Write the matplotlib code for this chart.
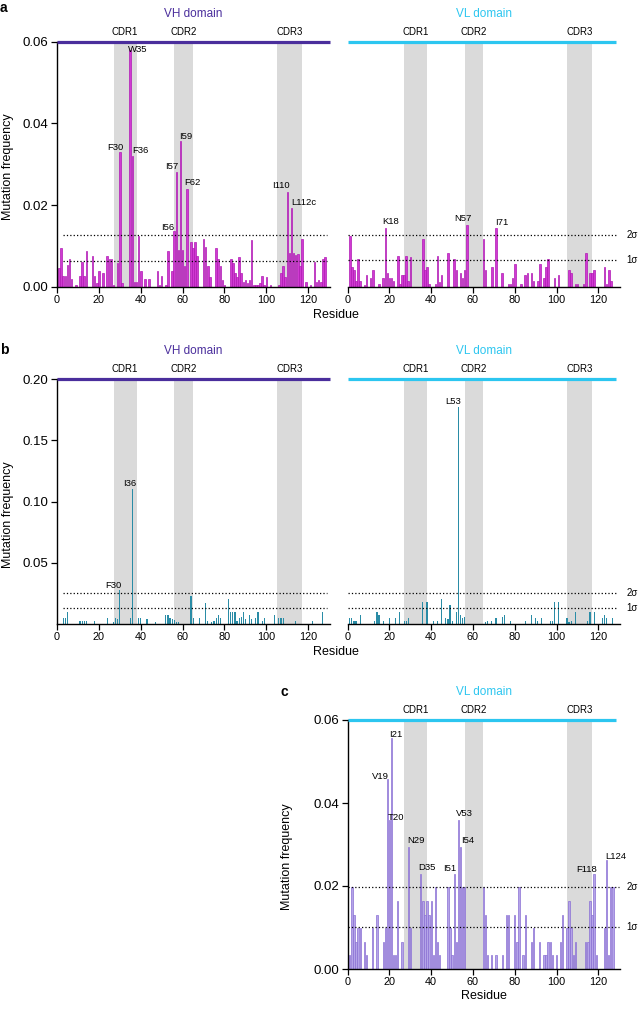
import matplotlib.pyplot as plt

plt.rcParams['font.family'] = ['Liberation Sans', 'DejaVu Sans']

# ---- data: residue positions and mutation frequencies ----
# panel a, VH domain
a_vh_res = [1, 2, 3, 4, 5, 6, 7, 9, 11, 12, 13, 14, 17, 18, 19, 20, 22, 24, 25, 26,
            27, 29, 30, 31, 35, 36, 37, 38, 39, 40, 42, 44, 48, 49, 50, 52, 53, 55, 56, 57,
            58, 59, 60, 61, 62, 64, 65, 66, 67, 70, 71, 72, 73, 76, 77, 78, 79, 80, 83, 84,
            85, 86, 87, 88, 89, 90, 91, 92, 93, 94, 95, 96, 97, 98, 99, 100, 102, 106, 107, 108,
            109, 110, 111, 112, 113, 114, 115, 116, 117, 119, 121, 123, 124, 125, 126, 127, 128]
a_vh_val = [0.0047, 0.0094, 0.0026, 0.0026, 0.0053, 0.0067, 0.0018, 0.0004, 0.0026, 0.0061,
            0.0026, 0.0088, 0.0075, 0.0026, 0.0008, 0.0039, 0.0033, 0.0075, 0.0069, 0.0069,
            0.0004, 0.0057, 0.0330, 0.0008, 0.0580, 0.0320, 0.0012, 0.0012, 0.0124, 0.0039,
            0.0020, 0.0020, 0.0039, 0.0004, 0.0026, 0.0004, 0.0088, 0.0039, 0.0137, 0.0280,
            0.0090, 0.0357, 0.0090, 0.0050, 0.0240, 0.0109, 0.0094, 0.0109, 0.0074, 0.0116,
            0.0098, 0.0050, 0.0024, 0.0094, 0.0067, 0.0050, 0.0016, 0.0004, 0.0069, 0.0057,
            0.0033, 0.0024, 0.0073, 0.0033, 0.0012, 0.0016, 0.0008, 0.0016, 0.0114, 0.0004,
            0.0004, 0.0004, 0.0008, 0.0026, 0.0004, 0.0024, 0.0004, 0.0003, 0.0033, 0.0050,
            0.0024, 0.0231, 0.0082, 0.0192, 0.0082, 0.0078, 0.0080, 0.0050, 0.0116, 0.0012,
            0.0004, 0.0060, 0.0012, 0.0016, 0.0012, 0.0067, 0.0073]
a_vh_sigma = [0.0126, 0.0064]
a_vh_names = ['F30', 'W35', 'F36', 'I56', 'I57', 'I59', 'F62', 'I110', 'L112c']

# panel a, VL domain
a_vl_res = [1, 2, 3, 4, 5, 6, 8, 9, 11, 12, 15, 17, 18, 19, 20, 21, 22, 24, 25, 26,
            27, 28, 29, 30, 36, 37, 38, 39, 42, 43, 44, 45, 48, 51, 52, 54, 55, 56, 57, 65,
            66, 69, 71, 74, 77, 78, 79, 80, 83, 85, 86, 88, 89, 91, 92, 94, 95, 96, 99, 101,
            106, 107, 109, 110, 113, 114, 116, 117, 118, 123, 124, 125, 126]
a_vl_val = [0.0124, 0.0049, 0.0041, 0.0014, 0.0069, 0.0014, 0.0004, 0.0028, 0.0022, 0.0042,
            0.0006, 0.0022, 0.0144, 0.0034, 0.0022, 0.0022, 0.0014, 0.0075, 0.0006, 0.0028,
            0.0028, 0.0075, 0.0014, 0.0072, 0.0116, 0.0041, 0.0049, 0.0006, 0.0006, 0.0075,
            0.0012, 0.0028, 0.0082, 0.0069, 0.0042, 0.0034, 0.0022, 0.0042, 0.0151, 0.0116,
            0.0041, 0.0049, 0.0144, 0.0034, 0.0006, 0.0006, 0.0022, 0.0055, 0.0006, 0.0028,
            0.0034, 0.0034, 0.0014, 0.0014, 0.0055, 0.0022, 0.0049, 0.0069, 0.0022, 0.0028,
            0.0042, 0.0034, 0.0006, 0.0006, 0.0006, 0.0083, 0.0034, 0.0034, 0.0041, 0.0049,
            0.0006, 0.0042, 0.0014]
a_vl_sigma = [0.0127, 0.0065]
a_vl_names = ['K18', 'N57', 'I71']

# panel b, VH domain
b_vh_res = [3, 4, 5, 11, 12, 13, 14, 18, 24, 27, 28, 29, 30, 35, 36, 39, 40, 43, 47, 52,
            53, 54, 55, 56, 57, 58, 64, 65, 68, 71, 72, 74, 75, 76, 77, 78, 82, 83, 84, 85,
            86, 87, 88, 89, 90, 92, 93, 95, 96, 98, 99, 104, 106, 107, 108, 114, 122, 127]
b_vh_val = [0.0046, 0.0046, 0.0095, 0.0022, 0.0022, 0.0022, 0.0022, 0.0024, 0.0046, 0.0019,
            0.0046, 0.0038, 0.0278, 0.0046, 0.1100, 0.0046, 0.0046, 0.0038, 0.0019, 0.0073,
            0.0073, 0.0046, 0.0038, 0.0033, 0.0019, 0.0019, 0.0229, 0.0046, 0.0046, 0.0174,
            0.0022, 0.0019, 0.0024, 0.0046, 0.0073, 0.0046, 0.0201, 0.0095, 0.0095, 0.0095,
            0.0022, 0.0046, 0.0060, 0.0095, 0.0038, 0.0073, 0.0038, 0.0046, 0.0095, 0.0022,
            0.0046, 0.0073, 0.0046, 0.0046, 0.0046, 0.0022, 0.0022, 0.0098]
b_vh_sigma = [0.0256, 0.0128]
b_vh_names = ['F30', 'I36']

# panel b, VL domain
b_vl_res = [1, 2, 3, 4, 6, 13, 14, 15, 17, 20, 23, 25, 27, 28, 29, 36, 38, 41, 43, 45,
            47, 48, 49, 50, 52, 53, 54, 55, 56, 66, 67, 69, 71, 74, 75, 78, 85, 88, 90, 91,
            93, 97, 98, 99, 101, 105, 106, 107, 109, 115, 116, 118, 122, 123, 124, 127]
b_vl_val = [0.0046, 0.0046, 0.0027, 0.0022, 0.0073, 0.0022, 0.0095, 0.0073, 0.0022, 0.0046,
            0.0046, 0.0098, 0.0022, 0.0022, 0.0046, 0.0177, 0.0177, 0.0022, 0.0022, 0.0201,
            0.0046, 0.0038, 0.0155, 0.0022, 0.0098, 0.1770, 0.0076, 0.0046, 0.0060, 0.0019,
            0.0022, 0.0022, 0.0046, 0.0060, 0.0076, 0.0022, 0.0022, 0.0071, 0.0046, 0.0027,
            0.0046, 0.0022, 0.0022, 0.0177, 0.0177, 0.0046, 0.0019, 0.0022, 0.0098, 0.0022,
            0.0098, 0.0098, 0.0046, 0.0073, 0.0046, 0.0046]
b_vl_sigma = [0.0252, 0.0128]
b_vl_names = ['L53']

# panel c, VL domain
c_vl_res = [1, 2, 3, 4, 5, 6, 8, 9, 12, 14, 17, 18, 19, 20, 21, 22, 23, 24, 26, 29,
            30, 35, 36, 37, 38, 39, 40, 41, 42, 43, 44, 48, 49, 50, 51, 52, 53, 54, 55, 56,
            65, 66, 67, 69, 71, 74, 76, 77, 80, 81, 82, 84, 85, 88, 89, 92, 94, 95, 96, 97,
            98, 100, 102, 103, 105, 106, 107, 108, 109, 114, 115, 116, 117, 118, 119, 123, 124, 125, 126, 127]
c_vl_val = [0.0033, 0.0197, 0.0131, 0.0066, 0.0098, 0.0098, 0.0066, 0.0033, 0.0098, 0.0131,
            0.0066, 0.0098, 0.0459, 0.0360, 0.0557, 0.0033, 0.0033, 0.0164, 0.0066, 0.0295,
            0.0098, 0.0230, 0.0164, 0.0131, 0.0164, 0.0131, 0.0164, 0.0033, 0.0197, 0.0066,
            0.0033, 0.0197, 0.0098, 0.0033, 0.0230, 0.0066, 0.0360, 0.0295, 0.0197, 0.0197,
            0.0197, 0.0131, 0.0033, 0.0033, 0.0033, 0.0033, 0.0131, 0.0131, 0.0131, 0.0066,
            0.0197, 0.0033, 0.0131, 0.0066, 0.0098, 0.0066, 0.0033, 0.0033, 0.0066, 0.0066,
            0.0033, 0.0033, 0.0066, 0.0131, 0.0098, 0.0164, 0.0098, 0.0033, 0.0066, 0.0066,
            0.0066, 0.0164, 0.0131, 0.0230, 0.0033, 0.0098, 0.0262, 0.0033, 0.0197, 0.0197]
c_vl_sigma = [0.0198, 0.0102]
c_vl_names = ['V19', 'T20', 'I21', 'N29', 'D35', 'I51', 'V53', 'I54', 'F118', 'L124']

cdr_names = ['CDR1', 'CDR2', 'CDR3']
cdr_spans = [(27, 38), (56, 65), (105, 117)]

VH_COL = '#4a2e9c'
VL_COL = '#2cc6f0'

fig = plt.figure(figsize=(6.41, 10.09), dpi=100)
W, H = 641.0, 1009.0


def box(x0, x1, ytop, ybot):
    return [x0 / W, 1 - ybot / H, (x1 - x0) / W, (ybot - ytop) / H]


def panel(ax, res, val, ymax, yticks, fmt, fc, ec, bw, sigma, domain, dcol,
          line_end, names, label_pos, left=True, sig_text=False, sig_span=(1, 129.5)):
    ax.set_xlim(0, 130.4)
    ax.set_ylim(0, ymax)
    for (s, e), name in zip(cdr_spans, cdr_names):
        ax.axvspan(s, e, color='#dadada', lw=0, zorder=0)
        ax.annotate(name, ((s + e) / 2, ymax), xytext=(0, 3.5), textcoords='offset points',
                    ha='center', va='bottom', fontsize=7)
    ax.bar(res, val, width=bw, facecolor=fc, edgecolor=ec, linewidth=0.5 if ec else 0,
           zorder=2)
    for s in sigma:
        ax.plot(sig_span, [s, s], color='k', lw=0.9, ls=(0, (1, 1.7)), zorder=3)
    if sig_text:
        for s, t in zip(sigma, ['2σ', '1σ']):
            ax.text(133.5, s, t, fontsize=7, ha='left', va='center', clip_on=False)
    ax.plot([0, line_end], [ymax, ymax], color=dcol, lw=2.3, clip_on=False,
            solid_capstyle='butt', zorder=5)
    ax.annotate(domain, (0.5, 1), xycoords='axes fraction', xytext=(0, 20),
                textcoords='offset points', ha='center', va='center', fontsize=8.5,
                color=dcol)
    for n, (x, y) in zip(names, label_pos):
        ax.text(x, y, n, fontsize=6.8, ha='center', va='center', zorder=4)
    ax.set_xticks(range(0, 121, 20))
    ax.tick_params(direction='out', length=4, width=0.9, labelsize=7.8, pad=2)
    for sp in ['top', 'right']:
        ax.spines[sp].set_visible(False)
    ax.spines['bottom'].set_linewidth(1.0)
    if left:
        ax.set_yticks(yticks)
        ax.set_yticklabels([fmt.format(t) for t in yticks])
        ax.tick_params(axis='y', labelsize=9.5)
        ax.spines['left'].set_linewidth(1.0)
    else:
        ax.spines['left'].set_visible(False)
        ax.set_yticks([])


# row a
ax = fig.add_axes(box(57, 330, 41.7, 286.7))
panel(ax, a_vh_res, a_vh_val, 0.06, [0, 0.02, 0.04, 0.06], '{:.2f}', '#d03ad2', '#b01ab4', 0.75,
      a_vh_sigma, 'VH domain', VH_COL, 130.4, a_vh_names,
      [(27.8, 0.0340), (38.6, 0.0582), (39.7, 0.0333), (52.9, 0.0144), (54.9, 0.0294),
       (61.4, 0.0367), (64.6, 0.0255), (107.2, 0.0247), (117.9, 0.0207)],
      sig_span=(3, 129))
ax = fig.add_axes(box(347.7, 620, 41.7, 286.7))
panel(ax, a_vl_res, a_vl_val, 0.06, [], '', '#d03ad2', '#b01ab4', 0.75,
      a_vl_sigma, 'VL domain', VL_COL, 128.7, a_vl_names,
      [(20.7, 0.0159), (55.0, 0.0167), (73.7, 0.0157)], left=False, sig_text=True,
      sig_span=(0, 129.5))

# row b
ax = fig.add_axes(box(57, 330, 379, 624))
panel(ax, b_vh_res, b_vh_val, 0.20, [0.05, 0.10, 0.15, 0.20], '{:.2f}', '#2a8ca6', None, 0.55,
      b_vh_sigma, 'VH domain', VH_COL, 130.4, b_vh_names,
      [(26.9, 0.0313), (34.6, 0.1148)], sig_span=(3, 129))
ax = fig.add_axes(box(347.7, 620, 379, 624))
panel(ax, b_vl_res, b_vl_val, 0.20, [], '', '#2a8ca6', None, 0.55,
      b_vl_sigma, 'VL domain', VL_COL, 128.7, b_vl_names,
      [(50.5, 0.1815)], left=False, sig_text=True, sig_span=(0, 129.5))

# row c
ax = fig.add_axes(box(347.7, 620, 720, 969))
panel(ax, c_vl_res, c_vl_val, 0.06, [0, 0.02, 0.04, 0.06], '{:.2f}', '#b4a4e8', '#8a70d4', 0.65,
      c_vl_sigma, 'VL domain', VL_COL, 128.7, c_vl_names,
      [(15.8, 0.0463), (23.0, 0.0365), (23.0, 0.0565), (32.5, 0.0309), (38.1, 0.0244),
       (49.0, 0.0242), (56.1, 0.0375), (57.4, 0.0309), (114.5, 0.0240), (128.4, 0.0271)],
      sig_text=True, sig_span=(0, 130))
ax.set_xlabel('Residue', fontsize=9, labelpad=2)

# shared labels
fig.text(336 / W, 1 - 315 / H, 'Residue', fontsize=9, ha='center', va='center')
fig.text(336 / W, 1 - 652 / H, 'Residue', fontsize=9, ha='center', va='center')
fig.text(8 / W, 1 - 167 / H, 'Mutation frequency', fontsize=9, rotation=90,
         ha='center', va='center')
fig.text(8 / W, 1 - 515 / H, 'Mutation frequency', fontsize=9, rotation=90,
         ha='center', va='center')
fig.text(287 / W, 1 - 857 / H, 'Mutation frequency', fontsize=9, rotation=90,
         ha='center', va='center')

fig.text(3.5 / W, 1 - 8 / H, 'a', fontsize=10, fontweight='bold', ha='center', va='center')
fig.text(4 / W, 1 - 350 / H, 'b', fontsize=10, fontweight='bold', ha='center', va='center')
fig.text(284 / W, 1 - 692 / H, 'c', fontsize=10, fontweight='bold', ha='center', va='center')

fig.savefig('out.png', dpi=100)
